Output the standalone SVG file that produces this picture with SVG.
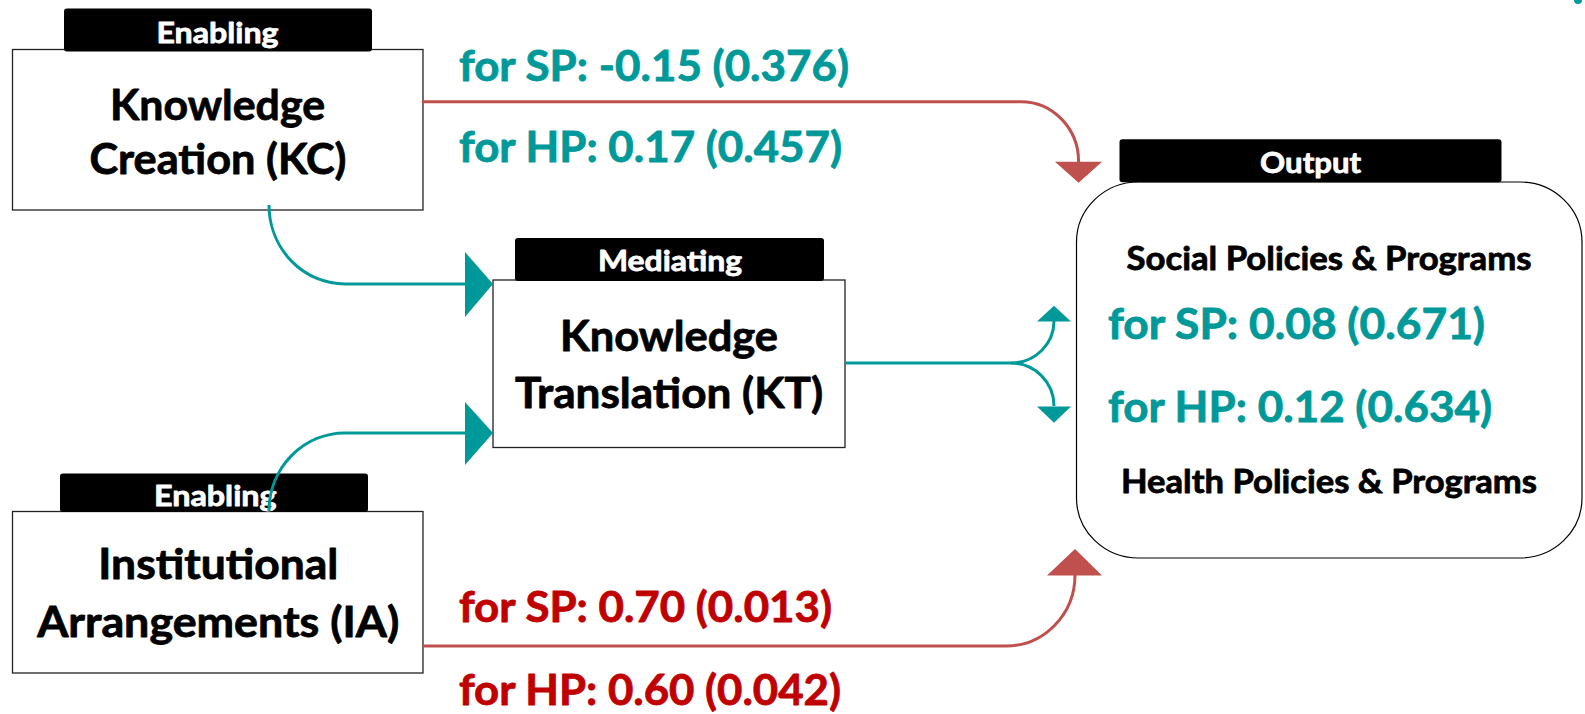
<svg xmlns="http://www.w3.org/2000/svg" width="1585" height="714" viewBox="0 0 1585 714">
<style>
text{font-family:Lato,"Liberation Sans",sans-serif;font-weight:bold;stroke-width:0.8;stroke-linejoin:round}
.box{fill:#fff;stroke:#222;stroke-width:1.3}
.tag{fill:#000}
.tagt{fill:#fff;stroke:#fff;font-size:29px;text-anchor:middle}
.title{fill:#000;stroke:#000;font-size:42px;text-anchor:middle}
.sub{fill:#000;stroke:#000;font-size:33px;text-anchor:middle}
.lt{fill:#009999;stroke:#009999;font-size:42px}
.lr{fill:#C00000;stroke:#C00000;font-size:42px}
.ct{fill:none;stroke:#009999;stroke-width:3}
.cr{fill:none;stroke:#C0504D;stroke-width:3}
.ht{fill:#009999}
.hr{fill:#C0504D}
</style>
<rect width="1585" height="714" fill="#fff"/>
<g id="kc">
<rect class="box" x="12.5" y="49.5" width="410.5" height="160.5"/>
<rect class="tag" x="64" y="8.5" width="308" height="43" rx="3"/>
<text class="tagt" x="217.5" y="42.7" textLength="122" lengthAdjust="spacingAndGlyphs">Enabling</text>
<text class="title" x="217.5" y="120" textLength="215" lengthAdjust="spacingAndGlyphs">Knowledge</text>
<text class="title" x="218" y="174" textLength="257" lengthAdjust="spacingAndGlyphs">Creation (KC)</text>
</g>
<g id="kt">
<rect class="box" x="493" y="280" width="352" height="167.5"/>
<rect class="tag" x="515" y="238" width="309" height="43" rx="3"/>
<text class="tagt" x="670" y="271" textLength="144" lengthAdjust="spacingAndGlyphs">Mediating</text>
<text class="title" x="669" y="351" textLength="218" lengthAdjust="spacingAndGlyphs">Knowledge</text>
<text class="title" x="669" y="408" textLength="308" lengthAdjust="spacingAndGlyphs">Translation (KT)</text>
</g>
<g id="ia">
<rect class="box" x="12.5" y="511.5" width="410.5" height="161.5"/>
<rect class="tag" x="60" y="473.5" width="308" height="38.5" rx="3"/>
<text class="tagt" x="215.3" y="505.7" textLength="122.7" lengthAdjust="spacingAndGlyphs">Enabling</text>
<text class="title" x="218.3" y="579" textLength="240" lengthAdjust="spacingAndGlyphs">Institutional</text>
<text class="title" x="218.2" y="637" textLength="362" lengthAdjust="spacingAndGlyphs">Arrangements (IA)</text>
</g>
<g id="output">
<rect class="box" x="1076.5" y="182" width="505.5" height="376" rx="62" ry="60" style="stroke:#000;stroke-width:1.2"/>
<rect class="tag" x="1119.5" y="139.3" width="382" height="43" rx="3"/>
<text class="tagt" x="1310.6" y="172.7" textLength="101" lengthAdjust="spacingAndGlyphs">Output</text>
<text class="sub" x="1329" y="270" textLength="405" lengthAdjust="spacingAndGlyphs">Social Policies &amp; Programs</text>
<text class="lt" x="1108" y="338.5" textLength="377" lengthAdjust="spacingAndGlyphs">for SP: 0.08 (0.671)</text>
<text class="lt" x="1108" y="421.5" textLength="384" lengthAdjust="spacingAndGlyphs">for HP: 0.12 (0.634)</text>
<text class="sub" x="1329" y="493.3" textLength="416" lengthAdjust="spacingAndGlyphs">Health Policies &amp; Programs</text>
</g>
<g id="connectors">
<path class="ct" d="M269,205 A76,79 0 0 0 345,284 L466,284"/>
<polygon class="ht" points="465,252 493,284 465,317"/>
<path class="ct" d="M269,511 A76,78 0 0 1 345,433 L466,433"/>
<polygon class="ht" points="465,402 493,433 465,465"/>
<path class="ct" d="M845,363 L1011,363 A43,42 0 0 0 1054,321"/>
<polygon class="ht" points="1037,321.5 1071,321.5 1054,305.7"/>
<path class="ct" d="M1011,363 A43,43 0 0 1 1054,406"/>
<polygon class="ht" points="1037,406.5 1071,406.5 1054,422.7"/>
<path class="cr" d="M422,101.7 L1021,101.7 A57.6,60 0 0 1 1078.6,162"/>
<polygon class="hr" points="1055,161.7 1102,161.7 1078.6,182.7"/>
<path class="cr" d="M422.7,646 L1006,646 A69,71 0 0 0 1075,575"/>
<polygon class="hr" points="1047,575.5 1102,575.5 1075,549"/>
<circle class="ht" cx="1578" cy="0" r="4"/>
</g>
<g id="labels">
<text class="lt" x="459" y="80.7" textLength="390" lengthAdjust="spacingAndGlyphs">for SP: -0.15 (0.376)</text>
<text class="lt" x="459" y="162" textLength="383" lengthAdjust="spacingAndGlyphs">for HP: 0.17 (0.457)</text>
<text class="lr" x="459" y="621.7" textLength="373" lengthAdjust="spacingAndGlyphs">for SP: 0.70 (0.013)</text>
<text class="lr" x="459" y="705" textLength="382" lengthAdjust="spacingAndGlyphs">for HP: 0.60 (0.042)</text>
</g>
</svg>
